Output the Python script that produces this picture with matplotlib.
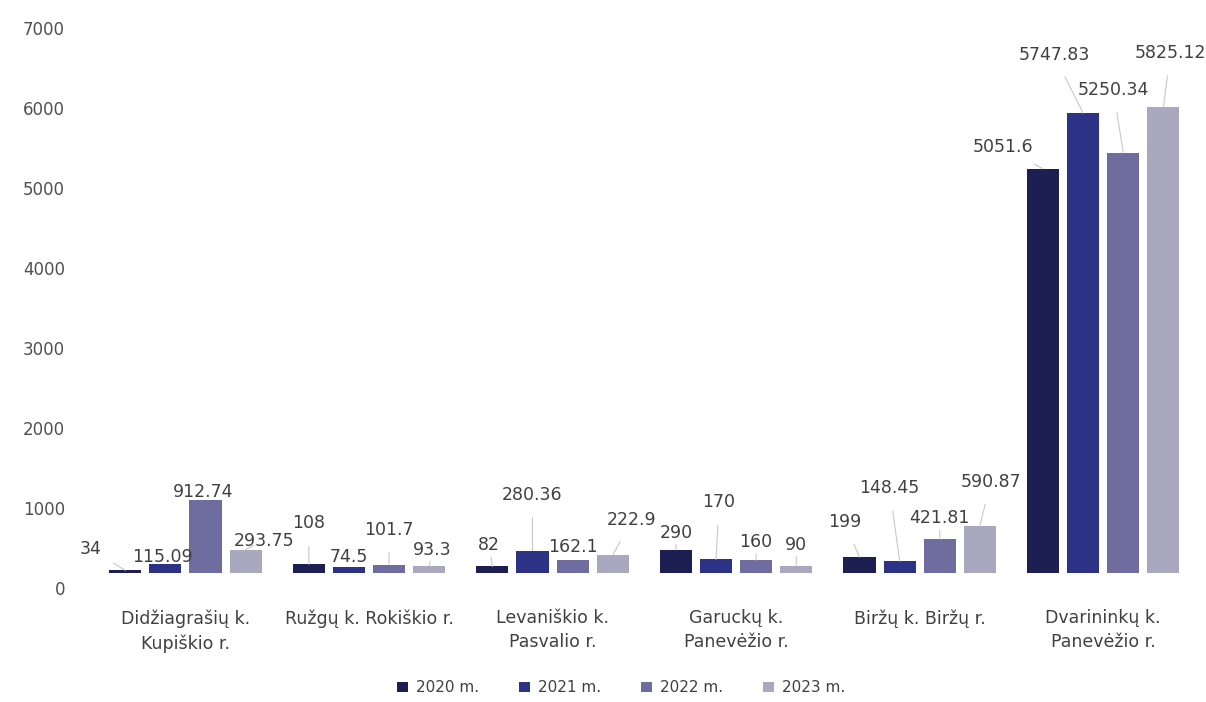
import matplotlib
matplotlib.use("Agg")
import matplotlib.pyplot as plt
import matplotlib.transforms as mtransforms
import numpy as np

categories = ["Didžiagrašių k.\nKupiškio r.", "Ružgų k. Rokiškio r.", "Levaniškio k.\nPasvalio r.",
              "Garuckų k.\nPanevėžio r.", "Biržų k. Biržų r.", "Dvarininkų k.\nPanevėžio r."]
series_names = ["2020 m.", "2021 m.", "2022 m.", "2023 m."]
v2020 = [34, 108, 82, 290, 199, 5051.6]
v2021 = [115.09, 74.5, 280.36, 170, 148.45, 5747.83]
v2022 = [912.74, 101.7, 162.1, 160, 421.81, 5250.34]
v2023 = [293.75, 93.3, 222.9, 90, 590.87, 5825.12]
labels2020 = ["34", "108", "82", "290", "199", "5051.6"]
labels2021 = ["115.09", "74.5", "280.36", "170", "148.45", "5747.83"]
labels2022 = ["912.74", "101.7", "162.1", "160", "421.81", "5250.34"]
labels2023 = ["293.75", "93.3", "222.9", "90", "590.87", "5825.12"]
yticks = [0, 1000, 2000, 3000, 4000, 5000, 6000, 7000]

series = [v2020, v2021, v2022, v2023]
slabels = [labels2020, labels2021, labels2022, labels2023]
colors = ["#1d1f52", "#2c3286", "#6f6ca0", "#a9a8bf"]

# label offsets in pixels (dx, dy) per series per category
offsets = [
    [(-35, 21), (0, 41), (-3, 21), (0, 17), (-15, 35), (-40, 22)],
    [(-3, 7), (0, 10), (0, 56), (3, 57), (-10, 73), (-29, 58)],
    [(-2, 8), (0, 35), (0, 13), (0, 18), (0, 21), (-10, 63)],
    [(18, 9), (3, 16), (19, 35), (0, 21), (11, 44), (7, 54)],
]

fig = plt.figure(figsize=(12.06, 7.02), dpi=100)
ax = fig.add_axes([90/1206, (702-573)/702, (1195-90)/1206, 560/702])

x = np.arange(len(categories))
step = 0.2186
width = 0.175
for i, vals in enumerate(series):
    xs = x + (i - 1.5) * step
    ax.bar(xs, vals, width=width, color=colors[i], label=series_names[i], zorder=2)
    for j, (bx, bv) in enumerate(zip(xs, vals)):
        dx, dy = offsets[i][j]
        ax.annotate(slabels[i][j], xy=(bx, bv), xytext=(dx, dy), textcoords="offset pixels",
                    ha="center", va="center", fontsize=12.5, color="#404040",
                    arrowprops=dict(arrowstyle="-", color="#c8c8c8", lw=0.8,
                                    shrinkA=8, shrinkB=0) if (abs(dy) > 15 or abs(dx) > 15) else None,
                    zorder=3)

ax.set_xlim(-0.52, 5.5)
ax.set_ylim(0, 7000)
ax.set_yticks(yticks)
ax.set_yticklabels([])
ax.tick_params(axis="y", length=0)
# y tick labels drawn slightly below their gridline positions, as in the reference
ytrans = mtransforms.blended_transform_factory(fig.transFigure, ax.transData) + \
    mtransforms.ScaledTranslation(0, -0.17, fig.dpi_scale_trans)
for t in yticks:
    ax.text(65/1206, t, str(t), transform=ytrans, ha="right", va="center",
            fontsize=12, color="#505050", clip_on=False)

ax.set_xticks(x)
ax.set_xticklabels(categories, fontsize=12.5, color="#404040", linespacing=1.45)
ax.tick_params(axis="x", length=0, pad=26)
for s in ax.spines.values():
    s.set_visible(False)

fig.legend(loc="lower center", bbox_to_anchor=(0.515, -0.01), ncol=4, frameon=False,
           fontsize=11, handlelength=0.7, handleheight=0.7, columnspacing=2.65,
           handletextpad=0.5, labelcolor="#404040")

fig.savefig("out.png", dpi=100)
